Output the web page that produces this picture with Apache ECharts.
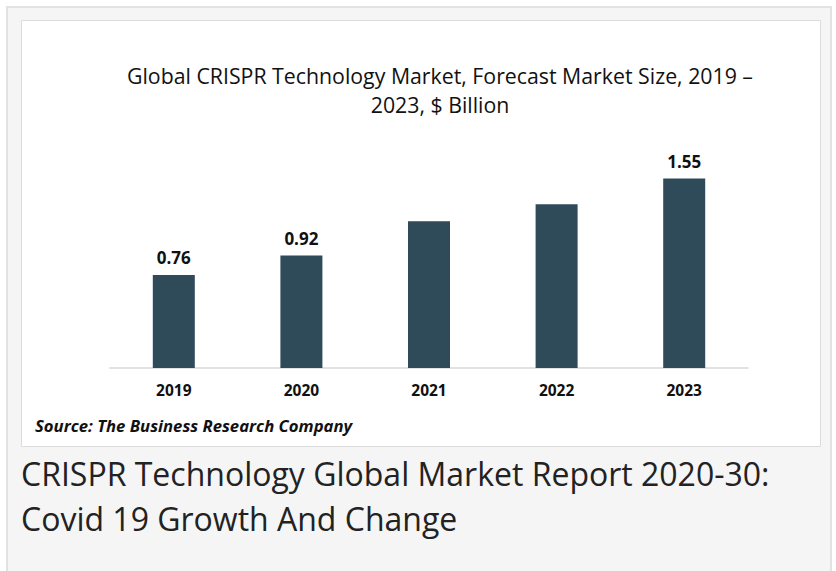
<!DOCTYPE html>
<html>
<head>
<meta charset="utf-8">
<script src="https://cdn.jsdelivr.net/npm/echarts@6/dist/echarts.min.js"></script>
<style>
html,body{margin:0;padding:0;background:#fff;}
#chart{width:836px;height:571px;}
</style>
</head>
<body>
<div id="chart"></div>
<script>
const categories = ['2019', '2020', '2021', '2022', '2023'];
const marketSize = [0.76, 0.92, 1.20, 1.34, 1.55];
const shownLabels = ['0.76', '0.92', '', '', '1.55'];
const chartTitle = 'Global CRISPR Technology Market, Forecast Market Size, 2019 –\n2023, $ Billion';
const sourceText = 'Source: The Business Research Company';
const captionText = 'CRISPR Technology Global Market Report 2020-30:\nCovid 19 Growth And Change';

const chart = echarts.init(document.getElementById('chart'), null, {renderer: 'svg'});
chart.setOption({
  animation: false,
  backgroundColor: '#fff',
  graphic: [
    {type: 'rect', z: -10, shape: {x: 7, y: 7, width: 824, height: 600},
     style: {fill: '#f5f5f5', stroke: '#e2e2e2', lineWidth: 2}},
    {type: 'rect', z: -9, shape: {x: 21.5, y: 20.5, width: 799, height: 426},
     style: {fill: '#ffffff', stroke: '#dcdcdc', lineWidth: 1}},
    {type: 'text', left: 35, top: 417,
     style: {text: sourceText, font: 'italic bold 16.7px "Open Sans", sans-serif', fill: '#111'}},
    {type: 'text', left: 21, top: 451,
     style: {text: captionText, font: '32px "Open Sans", sans-serif', fill: '#222', lineHeight: 45}}
  ],
  title: {
    text: chartTitle,
    left: 435, top: 56, textAlign: 'center',
    textStyle: {fontFamily: 'Open Sans', fontWeight: 'normal', fontSize: 21.3, color: '#111', lineHeight: 29}
  },
  grid: {left: 110, right: 88, top: 148, bottom: 203, containLabel: false},
  xAxis: {
    type: 'category', data: categories,
    axisLine: {lineStyle: {color: '#d9d9d9', width: 1.5}},
    axisTick: {show: false},
    axisLabel: {fontFamily: 'Open Sans', fontWeight: 'bold', fontSize: 15.5, color: '#111', margin: 14}
  },
  yAxis: {type: 'value', min: 0, max: 1.8, show: false, splitLine: {show: false}},
  series: [{
    type: 'bar', data: marketSize, barWidth: 42,
    itemStyle: {color: '#2f4a59'},
    label: {
      show: true, position: 'top', distance: 9,
      fontFamily: 'Open Sans', fontWeight: 'bold', fontSize: 17, color: '#111',
      formatter: p => shownLabels[p.dataIndex]
    }
  }]
});
</script>
</body>
</html>
